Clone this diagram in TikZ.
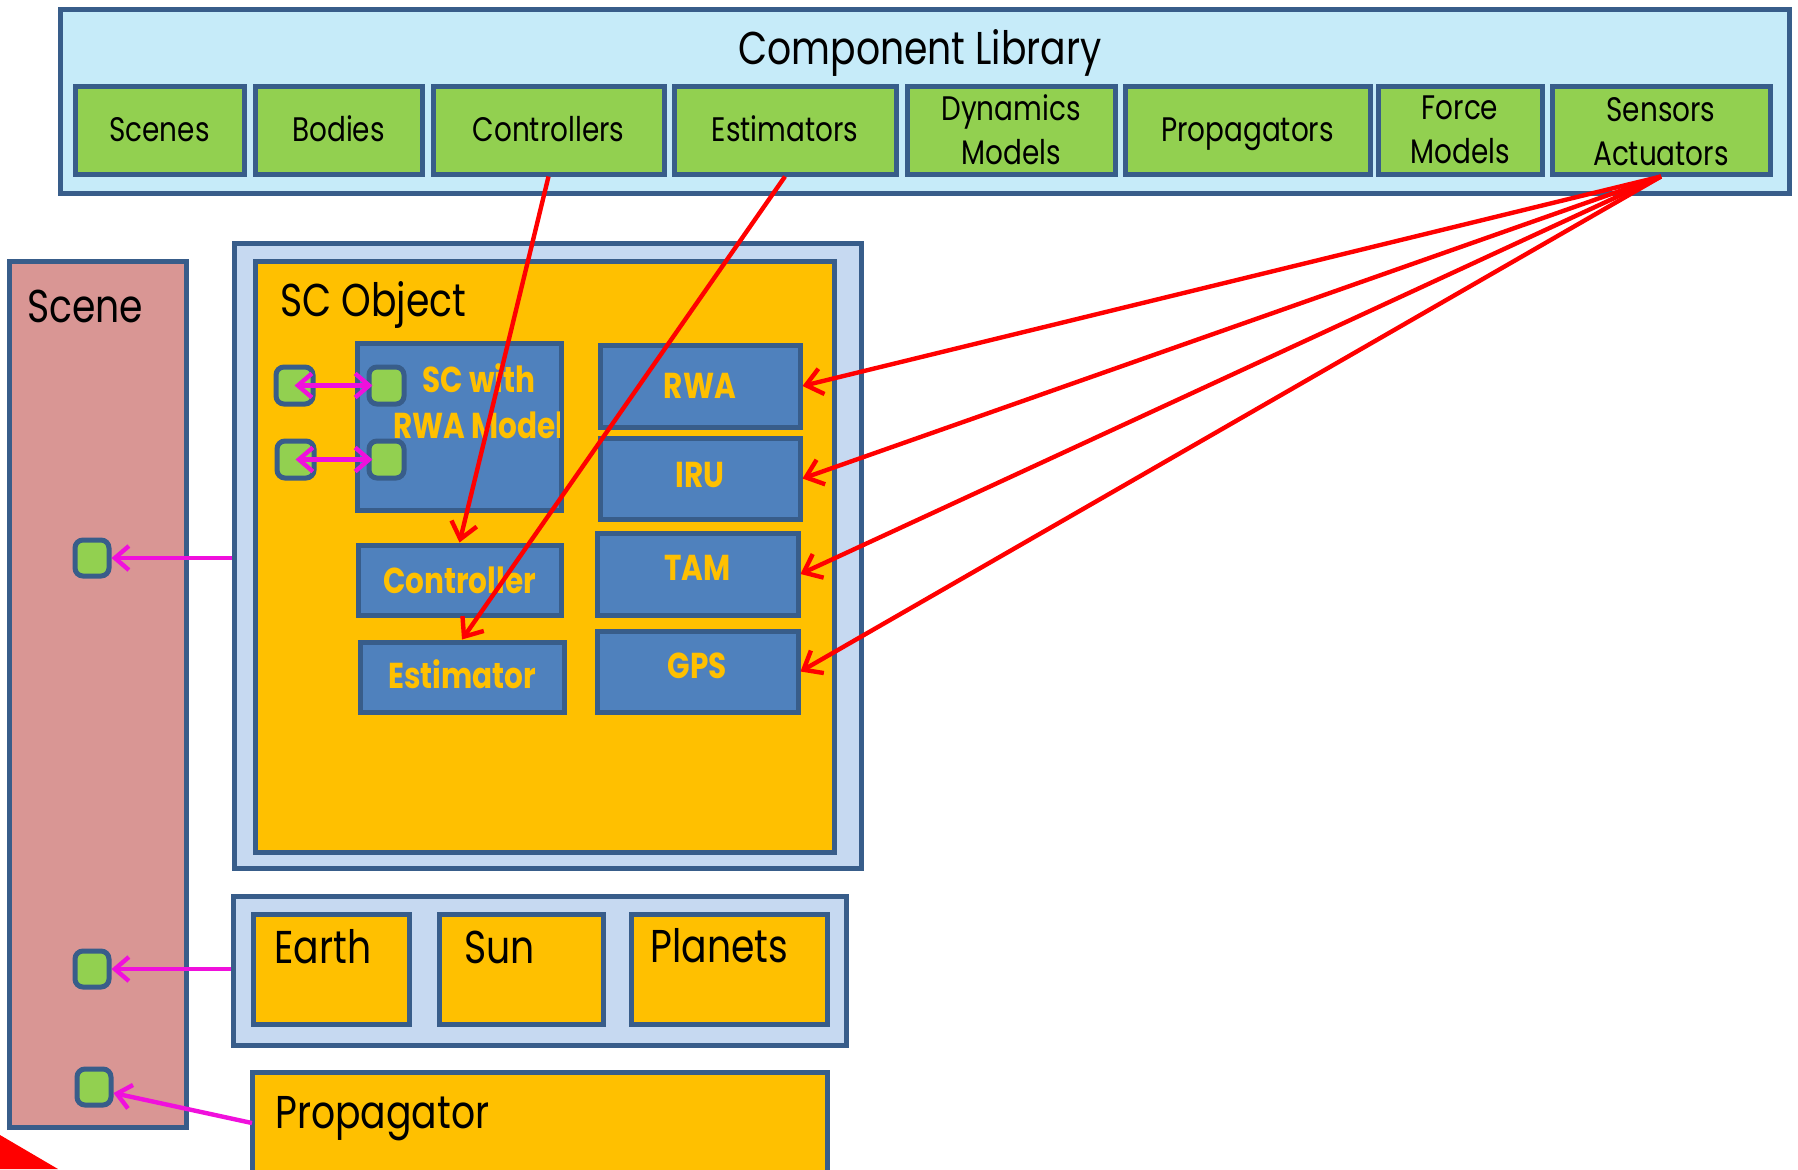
\documentclass[tikz,border=0pt]{standalone}
\usepackage{fontspec}
\setmainfont{Poppins}[FakeStretch=0.82]
\usetikzlibrary{fit,arrows.meta}
\definecolor{libbg}{RGB}{198,235,249}
\definecolor{libgreen}{RGB}{146,208,80}
\definecolor{bordc}{RGB}{56,93,138}
\definecolor{scenepink}{RGB}{217,150,148}
\definecolor{paleblue}{RGB}{198,217,241}
\definecolor{scorange}{RGB}{255,192,0}
\definecolor{compblue}{RGB}{79,129,189}
\definecolor{linkmag}{RGB}{240,16,220}
\definecolor{libred}{RGB}{255,0,0}
\newcommand{\fTitle}{\fontsize{23}{27}\selectfont}
\newcommand{\fLib}{\fontsize{17}{22}\selectfont}
\newcommand{\fBig}{\fontsize{23}{27}\selectfont}
\newcommand{\fComp}{\bfseries\fontsize{18}{23}\selectfont}
\tikzset{
  box/.style={draw=bordc, line width=2.5pt, inner sep=0pt},
  libbox/.style={box, fill=libgreen},
  libtext/.style={font=\fLib, align=center, inner sep=0pt},
  libone/.style={libtext, text height=11.8pt, text depth=0pt},
  compbox/.style={box, fill=compblue},
  comptext/.style={font=\fComp, text=scorange, align=center, inner sep=0pt},
  orbox/.style={box, fill=scorange},
  pbox/.style={box, fill=paleblue},
  port/.style={box, fill=libgreen, rounded corners=4pt},
  lbl/.style={inner sep=0pt, anchor=base west, font=\fBig},
  redarrow/.style={draw=libred, line width=2.2pt, -{Straight Barb[length=8pt,width=13pt,line width=2.2pt]}},
  magarrow/.style={draw=linkmag, line width=2.2pt, -{Straight Barb[length=7pt,width=12pt,line width=2.2pt]}},
  magdouble/.style={draw=linkmag, line width=2.2pt, {Straight Barb[length=7pt,width=12pt,line width=2.2pt]}-{Straight Barb[length=7pt,width=12pt,line width=2.2pt]}},
}
\begin{document}
\begin{tikzpicture}[x=0.5pt,y=-0.5pt]
\clip (0,0) rectangle (1798,1169);
\fill[white] (0,0) rectangle (1798,1169);

% Component library
\node[box, fill=libbg, fit={(60,9) (1789,193)}] (lib) {};
\node[inner sep=0pt, anchor=base, font=\fTitle] (libtitle) at (920,64) {Component Library};
\node[libbox, fit={(75,86) (244,174)}] (scenes) {};
\node[libbox, fit={(255,86) (422,174)}] (bodies) {};
\node[libbox, fit={(433,86) (664,174)}] (controllers) {};
\node[libbox, fit={(674,86) (896,174)}] (estimators) {};
\node[libbox, fit={(907,86) (1115,174)}] (dynamics) {};
\node[libbox, fit={(1125,86) (1370,174)}] (propagators) {};
\node[libbox, fit={(1378,86) (1542,174)}] (force) {};
\node[libbox, fit={(1552,86) (1770,174)}] (sensors) {};
\node[libone] (scenest) at (scenes.center) {Scenes};
\node[libone] (bodiest) at (bodies.center) {Bodies};
\node[libone] (controllerst) at (controllers.center) {Controllers};
\node[libone] (estimatorst) at (estimators.center) {Estimators};
\node[libtext] (dynamicst) at (dynamics.center) {Dynamics\\Models};
\node[libone] (propagatorst) at (propagators.center) {Propagators};
\node[libtext] (forcet) at (force.center) {Force\\Models};
\node[libtext] (sensorst) at ([yshift=-1pt]sensors.center) {Sensors\\Actuators};

% Scene
\node[box, fill=scenepink, fit={(9,261) (186,1127)}] (scene) {};
\node[lbl] (scenelbl) at (27,322) {Scene};
\node[port, fit={(75,540) (109,576)}] (sp1) {};
\node[port, fit={(75,951) (109,987)}] (sp2) {};
\node[port, fit={(77,1069) (111,1105)}] (sp3) {};

% SC Object
\node[pbox, fit={(234,243) (861,868)}] (scouter) {};
\node[orbox, fit={(255,261) (834,852)}] (scinner) {};
\node[lbl] (sclbl) at (280,316) {SC Object};
\node[compbox, fit={(357,343) (561,510)}] (scrwa) {};
\begin{scope}
\clip (359,345) rectangle (559,508);
\node[comptext] (scrwalbl) at (479,401) {SC with\\RWA Model};
\end{scope}
\node[port, fit={(276,367) (313,404)}] (lp1) {};
\node[port, fit={(277,441) (314,478)}] (lp2) {};
\node[port, fit={(369,367) (404,404)}] (ip1) {};
\node[port, fit={(369,441) (404,478)}] (ip2) {};

\node[compbox, fit={(600,345) (800,427)}] (rwa) {};
\node[compbox, fit={(600,438) (800,519)}] (iru) {};
\node[compbox, fit={(597,533) (798,615)}] (tam) {};
\node[compbox, fit={(597,631) (798,712)}] (gps) {};
\node[compbox, fit={(358,545) (561,615)}] (controller) {};
\node[compbox, fit={(360,642) (564,712)}] (estimator) {};
\node[comptext] (rwat) at (rwa.center) {RWA};
\node[comptext] (irut) at ([yshift=2pt]iru.center) {IRU};
\node[comptext] (tamt) at ([yshift=3pt]tam.center) {TAM};
\node[comptext] (gpst) at ([yshift=3pt]gps.center) {GPS};
\node[comptext] (controllert) at (controller.center) {Controller};
\node[comptext] (estimatort) at ([yshift=1.5pt]estimator.center) {Estimator};

% Bodies
\node[pbox, fit={(233,896) (846,1045)}] (bodiesbox) {};
\node[orbox, fit={(253,914) (409,1024)}] (earth) {};
\node[orbox, fit={(439,914) (603,1024)}] (sun) {};
\node[orbox, fit={(631,914) (827,1024)}] (planets) {};
\node[lbl] (earthlbl) at (274,963) {Earth};
\node[lbl] (sunlbl) at (464,963) {Sun};
\node[lbl] (planetslbl) at (650,962) {Planets};

% Propagator
\node[orbox, fit={(252,1072) (827,1200)}] (prop) {};
\node[lbl] (proplbl) at (275,1128) {Propagator};
\coordinate (propin) at (252,1123);

% red corner
\fill[libred] (0,1135) -- (58,1169) -- (0,1169) -- cycle;

% magenta links
\draw[magdouble] (lp1.center) -- ([xshift=3pt]ip1.west);
\draw[magdouble] (lp2.center) -- ([xshift=3pt]ip2.west);
\draw[magarrow] (sp1.east -| scouter.west) -- (sp1.east);
\draw[magarrow] (sp2.east -| bodiesbox.west) -- (sp2.east);
\draw[magarrow] (propin) -- ([yshift=-3pt]sp3.east);

% red links
\draw[redarrow] (controllers.south) -- (controller.north);
\draw[redarrow] (estimators.south) -- (estimator.north);
\draw[redarrow] (sensors.south) -- (rwa.east);
\draw[redarrow] (sensors.south) -- (iru.east);
\draw[redarrow] (sensors.south) -- (tam.east);
\draw[redarrow] (sensors.south) -- (gps.east);
\end{tikzpicture}
\end{document}
